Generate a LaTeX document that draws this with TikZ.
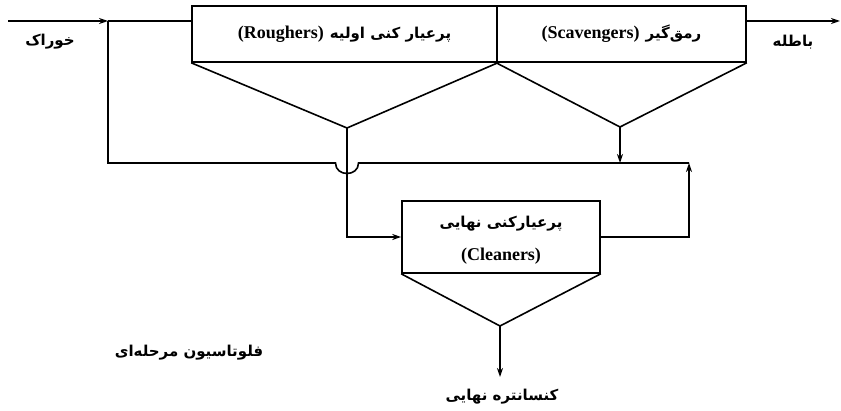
\documentclass[tikz,border=0pt]{standalone}
\usepackage{fontspec}
\setmainfont{Liberation Serif}
\newfontfamily\fa[Script=Arabic,BoldFont={DejaVu Sans Bold}]{DejaVu Sans}
\TeXXeTstate=1
\usetikzlibrary{arrows.meta}
\newcommand{\fat}[1]{{\fa\bfseries\fontsize{15}{17}\selectfont\beginR #1\endR}}
\newcommand{\ent}[1]{{\bfseries\fontsize{18}{20}\selectfont #1}}
\begin{document}
\begin{tikzpicture}[x=1pt,y=-1pt,
  box/.style={draw,line width=1.6pt,inner sep=0pt,minimum height=56pt,align=center},
  ln/.style={line width=1.6pt},
  arr/.style={line width=1.6pt,-{Stealth[length=9pt,width=6pt]}},
  lbl/.style={inner sep=0pt}]
\useasboundingbox (0,0) rectangle (841,411);
% units
\node[box,minimum width=305pt] (R) at (344.5,34) {\ent{(Roughers)}\hspace{6pt}\fat{پرعیار کنی اولیه}};
\node[box,minimum width=249pt] (S) at (621.5,34) {\ent{(Scavengers)}\hspace{6pt}\fat{رمق‌گیر}};
\node[box,minimum width=198pt,minimum height=72pt] (C) at (501,237) {};
\node[lbl] (Cfa) at (501,224) {\fat{پرعیارکنی نهایی}};
\node[lbl] (Cen) at (501,256) {\ent{(Cleaners)}};
% apex points
\coordinate (ra) at (347,128);
\coordinate (sa) at (620,127);
\coordinate (ca) at (500,326);
\draw[ln] (R.south west) -- (ra) -- (R.south east);
\draw[ln] (S.south west) -- (sa) -- (S.south east);
\draw[ln] (C.south west) -- (ca) -- (C.south east);
% coordinates
\coordinate (fin) at (8,21);
\coordinate (fj) at (108,21);
\coordinate (lb) at (108,163);
\coordinate (rt) at (689,163);
\coordinate (tout) at (840,21);
\coordinate (cb) at (500,377);
% feed
\draw[arr] (fin) -- (fj);
\draw[ln] (fj) -- (fj -| R.west);
\draw[ln] (fj) -- (lb) -- (335.5,163) .. controls (335.5,177) and (358.5,177) .. (358.5,163) -- (rt);
% rougher concentrate to cleaner
\draw[arr] (ra) |- (C.west);
% scavenger concentrate
\draw[arr] (sa) -- (sa |- rt);
% cleaner tails
\draw[arr] (C.east) -| (rt);
% tails
\draw[arr] (S.east |- tout) -- (tout);
% final concentrate
\draw[arr] (ca) -- (cb);
% labels
\node[lbl] (feed) at (50,42) {\fat{خوراک}};
\node[lbl] (tail) at (793,42) {\fat{باطله}};
\node[lbl] (title) at (189,353) {\fat{فلوتاسیون مرحله‌ای}};
\node[lbl] (conc) at (502,397) {\fat{کنسانتره نهایی}};
\end{tikzpicture}
\end{document}
